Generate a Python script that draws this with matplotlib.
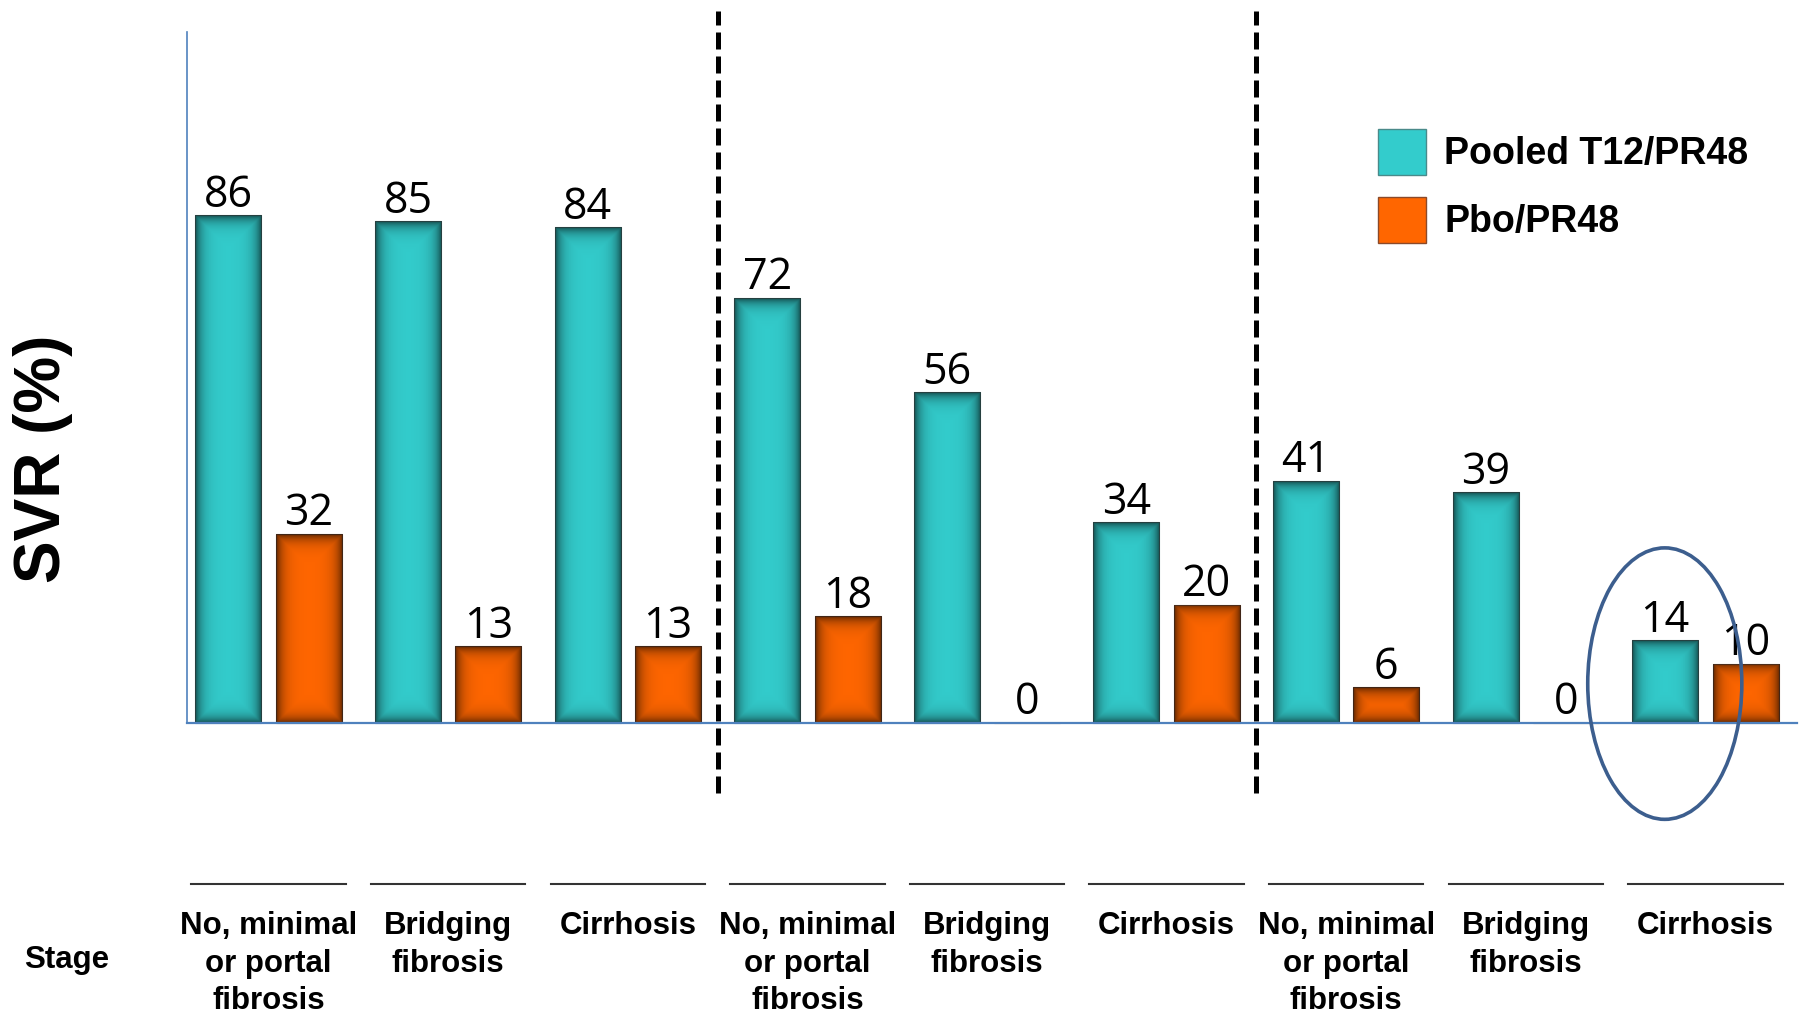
import numpy as np
import matplotlib.pyplot as plt
from matplotlib.patches import Patch, Ellipse

# ----------------------------
# Data
# ----------------------------
stages = ["No, minimal\nor portal\nfibrosis", "Bridging\nfibrosis", "Cirrhosis"] * 3
pooled = [86, 85, 84, 72, 56, 34, 41, 39, 14]   # Pooled T12/PR48
pbo    = [32, 13, 13, 18, 0, 20, 6, 0, 10]      # Pbo/PR48
series_names = ["Pooled T12/PR48", "Pbo/PR48"]

teal = "#33CCCC"
orange = "#FF6600"

# ----------------------------
# Figure / axes
# ----------------------------
fig = plt.figure(figsize=(18.04, 10.14), dpi=100)
ax = fig.add_axes([0.1039, 0.2170, 0.8922, 0.7717])

x = np.arange(len(stages))
bw = 0.368
off = 0.224

b1 = ax.bar(x - off, pooled, bw, color=teal, edgecolor="#5f9f9f", linewidth=0.8, zorder=3)
b2 = ax.bar(x + off, pbo, bw, color=orange, edgecolor="#a0603a", linewidth=0.8, zorder=3)

# darker edges on the bars (bevel-ish look)
px_x = 0.8922 * 1804 / (8.51 + 0.452)
px_y = 0.7717 * 1014 / (120.5 + 12.1)
for bar in list(b1) + list(b2):
    h = bar.get_height()
    if h <= 0:
        continue
    x0, w = bar.get_x(), bar.get_width()
    nx, ny = 60, max(int(h * px_y), 2)
    xs = np.linspace(0, w * px_x, nx)
    ys = np.linspace(0, h * px_y, ny)
    dx = np.minimum(xs, xs[-1] - xs)[None, :]
    dy = np.minimum(ys, ys[-1] - ys)[:, None]
    d = np.minimum(dx, dy)
    img = np.zeros((ny, nx, 4))
    img[..., 3] = 0.6 * np.exp(-d / 7.0)
    im = ax.imshow(img, extent=(x0, x0 + w, 0, h), aspect="auto",
                   interpolation="bilinear", zorder=3.5)
    im.set_clip_path(bar)

# value labels
for bars, vals in ((b1, pooled), (b2, pbo)):
    for bar, v in zip(bars, vals):
        ax.annotate(str(v), (bar.get_x() + bar.get_width() / 2, v),
                    xytext=(0, 6), textcoords="offset points",
                    ha="center", va="baseline", fontsize=31,
                    family="Open Sans", color="black", zorder=5)

# group separators
for xs_ in (2.5, 5.5):
    ax.plot([xs_, xs_], [-12.0, 120.5], color="black", lw=3.6,
            linestyle=(0, (3.4, 1.4)), clip_on=False, zorder=4)

# highlight circle
ax.add_patch(Ellipse((7.774, 6.6), 0.858, 46, fill=False,
                     edgecolor="#3C5E8E", lw=2.6, zorder=6, clip_on=False))

ax.set_xlim(-0.452, 8.51)
ax.set_ylim(-12.1, 120.5)

for s in ("top", "right"):
    ax.spines[s].set_visible(False)
ax.spines["left"].set_bounds(0, 117)
ax.spines["left"].set_color("#4F81BD")
ax.spines["left"].set_linewidth(1.2)
ax.spines["bottom"].set_position(("data", 0))
ax.spines["bottom"].set_color("#4F81BD")
ax.spines["bottom"].set_linewidth(1.6)
ax.spines["bottom"].set_zorder(4)
ax.set_xticks([])
ax.set_yticks([])
ax.patch.set_alpha(0)

# category labels under the chart
for i, lab in enumerate(stages):
    ax.plot([i - 0.43, i + 0.43], [-27.3, -27.3], color="#333333", lw=1.5, clip_on=False)
    ax.text(i, -32.0, lab, ha="center", va="top", fontsize=22.5,
            fontweight="bold", family="Liberation Sans", linespacing=1.32)
ax.text(-1.127, -40.3, "Stage", ha="center", va="center", fontsize=22.5,
        fontweight="bold", family="Liberation Sans")

fig.text(0.0236, 0.548, "SVR (%)", rotation=90, ha="center", va="center",
         fontsize=46, fontweight="bold", family="Liberation Sans")

handles = [Patch(facecolor=teal, edgecolor="#4a8a8a"),
           Patch(facecolor=orange, edgecolor="#8a4a2a")]
fig.legend(handles, series_names, loc="upper left", bbox_to_anchor=(0.7639, 0.8728),
           frameon=False, borderpad=0, borderaxespad=0, handlelength=1.27,
           handleheight=1.5, handletextpad=0.5, labelspacing=0.6,
           prop={"family": "Liberation Sans", "weight": "bold", "size": 27})

fig.savefig("out.png", dpi=100)
